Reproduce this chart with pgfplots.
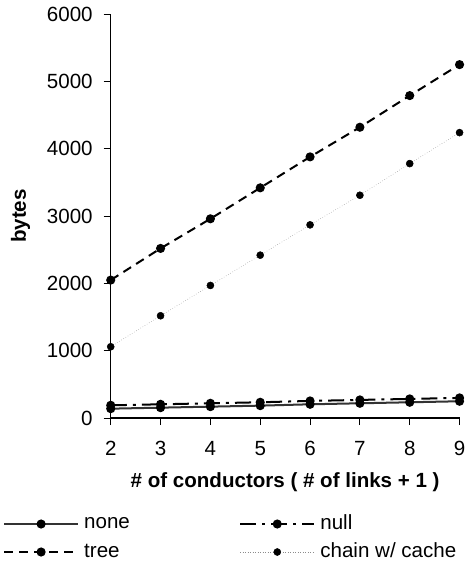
\documentclass[border=0pt]{standalone}
\usepackage{fontspec}
\setmainfont{Liberation Sans}
\usepackage{pgfplots}
\pgfplotsset{compat=1.18}

\begin{document}
\fontsize{20.5}{24}\selectfont
\begin{tikzpicture}
\begin{axis}[
  scale only axis, width=348pt, height=403pt,
  xmin=2, xmax=9, ymin=0, ymax=6000,
  axis x line=bottom, axis y line=left,
  axis line style={-, line width=1.2pt},
  tick align=outside, major tick length=7pt,
  tick style={line width=1pt, black},
  xtick={2,...,9}, ytick={0,1000,...,6000},
  /pgf/number format/assume math mode=true,
  /pgf/number format/set thousands separator={},
  ticklabel style={font=\fontsize{20.5}{24}\selectfont},
  xticklabel style={yshift=-9pt},
  yticklabel style={xshift=-4pt},
  xlabel={\textbf{\# of conductors ( \# of links + 1 )}},
  ylabel={\textbf{bytes}},
  xlabel style={yshift=-3pt},
  ylabel style={yshift=3pt},
  clip=false,
  every axis plot/.append style={mark=*, mark size=3.5pt, mark options={solid, fill=black, draw=black}},
  legend columns=2,
  legend style={draw=none, fill=none, at={(-0.318,-0.232)}, anchor=north west,
    font=\fontsize{20.5}{24}\selectfont, row sep=8pt,
    /tikz/column 1/.style={column sep=4pt},
    /tikz/column 2/.style={column sep=108pt},
    /tikz/column 3/.style={column sep=4pt},
    nodes={inner sep=1pt}},
  legend cell align=left,
  legend image code/.code={\draw[mark repeat=2, mark phase=2, #1] plot coordinates {(0pt,0pt) (37pt,0pt) (74pt,0pt)};},
]
\addplot[color=black!80, line width=2pt] coordinates {(2,140) (3,155) (4,170) (5,185) (6,205) (7,220) (8,235) (9,250)};
\addlegendentry{none}
\addplot[color=black, line width=2pt, dash pattern=on 16pt off 6pt on 3pt off 6pt] coordinates {(2,190) (3,205) (4,220) (5,235) (6,255) (7,270) (8,285) (9,300)};
\addlegendentry{null}
\addplot[color=black, line width=2pt, dash pattern=on 9pt off 6pt] coordinates {(2,2050) (3,2520) (4,2960) (5,3420) (6,3880) (7,4320) (8,4790) (9,5250)};
\addlegendentry{tree}
\addplot[color=black!45, line width=0.5pt, dotted] coordinates {(2,1060) (3,1520) (4,1970) (5,2420) (6,2870) (7,3310) (8,3780) (9,4240)};
\addlegendentry{chain w/ cache}
\end{axis}
\end{tikzpicture}
\end{document}
